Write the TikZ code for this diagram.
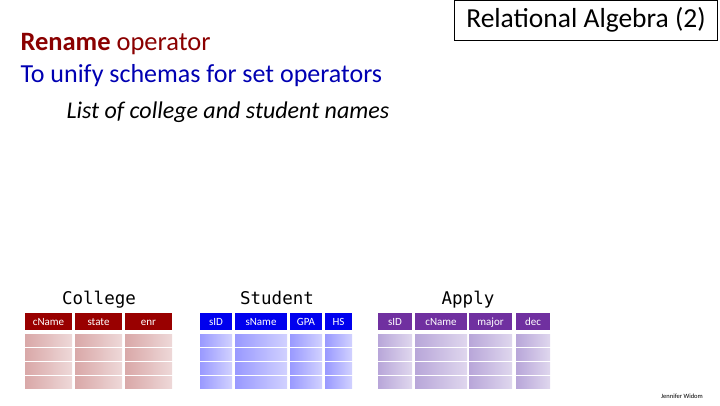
\documentclass[tikz,border=0pt]{standalone}
\usepackage{fontspec}
\setmainfont{Carlito}
\setmonofont{DejaVu Sans Mono}
\begin{document}
\begin{tikzpicture}[x=1pt,y=-1pt,
  hdr/.style={inner sep=0pt,anchor=base,text=white,font=\fontsize{11}{11}\selectfont},
  ttl/.style={anchor=base,font=\ttfamily\fontsize{17.5}{17.5}\selectfont}]
\definecolor{cred}{HTML}{990000}\definecolor{cblue}{HTML}{0000EE}\definecolor{cpur}{HTML}{7030A0}
\definecolor{rred}{HTML}{D9A8A8}\definecolor{rblue}{HTML}{9999FF}\definecolor{rpur}{HTML}{B8A6D9}
\useasboundingbox (0,0) rectangle (720,405);
\node[draw,thick,minimum width=263pt,minimum height=40pt,font=\fontsize{27.5}{27.5}\selectfont] (title) at (586,20) {Relational Algebra (2)};
\node[anchor=west,font=\fontsize{26.5}{26.5}\selectfont,text=cred!90!black] (l1) at (17,44) {\textbf{Rename} operator};
\node[anchor=west,font=\fontsize{26}{26}\selectfont,text=blue!70!black] (l2) at (17,76) {To unify schemas for set operators};
\node[anchor=west,font=\itshape\fontsize{24}{24}\selectfont] (l3) at (63,112) {List of college and student names};
\newcommand\mytable[5]{%
  \foreach \a/\b/\t in {#1}{
    \fill[#2] (\a,313) rectangle (\b,330);
    \node[hdr] at ({(\a+\b)/2},325.5) {\t};
    \foreach \y in {334,348,362,376}{
      \shade[left color=#3,right color=#3!45!white] (\a,\y) rectangle (\b,\y+12);}
  }
  \node[ttl] at (#4,304) {#5};
}
\mytable{25/72/cName,75/122/state,125/172/enr}{cred}{rred}{99}{College}
\mytable{200/232/sID,235/287/sName,290/322/GPA,325/352/HS}{cblue}{rblue}{277}{Student}
\mytable{378/412/sID,415/467/cName,469/512/major,516/550/dec}{cpur}{rpur}{468}{Apply}
\node[font=\fontsize{6.5}{6.5}\selectfont] (jw) at (682,396) {Jennifer Widom};
\end{tikzpicture}
\end{document}
